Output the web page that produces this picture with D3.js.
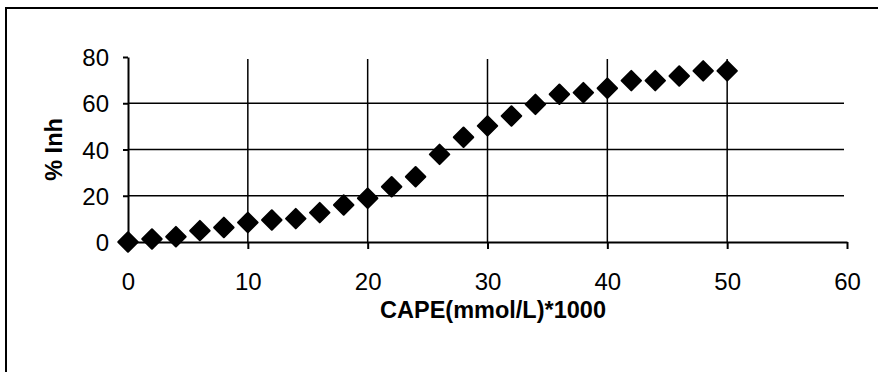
<!DOCTYPE html>
<html lang="en">
<head>
<meta charset="UTF-8">
<title>% Inh vs CAPE</title>
<script src="https://d3js.org/d3.v7.min.js"></script>
<style>
    body { margin: 0; background: #fff; }
    svg { display: block; }
    .tick text { font-family: "Liberation Sans", Arial, sans-serif; font-size: 24px; fill: #000; }
    .axis-title { font-family: "Liberation Sans", Arial, sans-serif; font-size: 23.5px; font-weight: bold; }
</style>
</head>
<body>
<svg width="878" height="372"></svg>
<script>
    // concentration (x) and inhibition (y)
    const cape = [0, 2, 4, 6, 8, 10, 12, 14, 16, 18, 20, 22, 24, 26, 28, 30, 32, 34, 36, 38, 40, 42, 44, 46, 48, 50];
    const inh = [0, 1.3, 2.3, 4.9, 6.3, 8.4, 9.5, 10.1, 12.7, 16, 18.9, 23.9, 28.2, 37.9, 45.3, 50.2, 54.5, 59.5, 63.9, 64.6, 66.5, 69.8, 69.8, 71.8, 74, 74];
    const xTicks = [0, 10, 20, 30, 40, 50, 60];
    const yTicks = [0, 20, 40, 60, 80];

    const svg = d3.select("svg");

    // outer frame (right/bottom edges fall outside the picture)
    svg.append("rect")
        .attr("x", 6).attr("y", 8)
        .attr("width", 900).attr("height", 400)
        .attr("fill", "none").attr("stroke", "#000").attr("stroke-width", 2);

    const x = d3.scaleLinear().domain([0, 60]).range([128, 847]);
    const y = d3.scaleLinear().domain([0, 80]).range([242, 57]);

    // grid
    svg.append("g").selectAll("line")
        .data(yTicks.filter(d => d > 0 && d < 80))
        .join("line")
        .attr("x1", x(0)).attr("x2", x(60) - 3)
        .attr("y1", d => y(d)).attr("y2", d => y(d))
        .attr("stroke", "#000").attr("stroke-width", 1.5);

    svg.append("g").selectAll("line")
        .data(xTicks.filter(d => d > 0 && d < 60))
        .join("line")
        .attr("x1", d => x(d)).attr("x2", d => x(d))
        .attr("y1", y(80) + 2).attr("y2", y(0))
        .attr("stroke", "#000").attr("stroke-width", 1.5);

    // axes
    const xAxis = svg.append("g")
        .attr("transform", `translate(0,${y(0)})`)
        .call(d3.axisBottom(x).tickValues(xTicks).tickSize(7).tickPadding(24).tickSizeOuter(0));
    const yAxis = svg.append("g")
        .attr("transform", `translate(${x(0)},0)`)
        .call(d3.axisLeft(y).tickValues(yTicks).tickSize(5).tickPadding(14).tickSizeOuter(0));

    [xAxis, yAxis].forEach(a => {
        a.select(".domain").attr("stroke", "#000").attr("stroke-width", 2);
        a.selectAll(".tick line").attr("stroke", "#000").attr("stroke-width", 2);
    });
    yAxis.selectAll(".tick text").attr("dy", "0.36em");

    // markers
    const diamond = d3.symbol().type(d3.symbolSquare).size(190);
    svg.append("g").selectAll("path")
        .data(cape.map((c, i) => [c, inh[i]]))
        .join("path")
        .attr("d", diamond)
        .attr("transform", d => `translate(${x(d[0])},${y(d[1])}) rotate(45)`)
        .attr("fill", "#000")
        .attr("stroke", "#000")
        .attr("stroke-width", 2)
        .attr("stroke-linejoin", "round");

    // titles
    svg.append("text")
        .attr("class", "axis-title")
        .attr("x", 493).attr("y", 318)
        .attr("text-anchor", "middle")
        .text("CAPE(mmol/L)*1000");

    svg.append("text")
        .attr("class", "axis-title")
        .attr("transform", `translate(62,${(y(0) + y(80)) / 2}) rotate(-90)`)
        .attr("text-anchor", "middle")
        .text("% Inh");
</script>
</body>
</html>
